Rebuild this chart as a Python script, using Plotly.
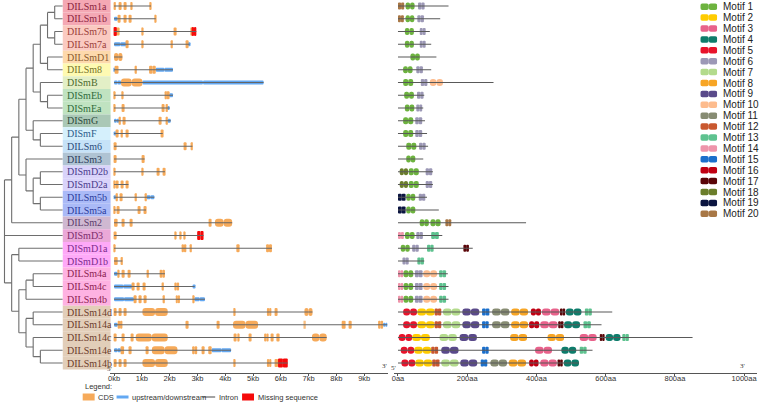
import plotly.graph_objects as go

W, H = 777, 402

# ---------------- data ----------------
genes = ["DILSm1a", "DILSm1b", "DILSm7b", "DILSm7a", "DILSmD1", "DILSm8", "DISmB",
         "DISmEb", "DISmEa", "DISmG", "DISmF", "DILSm6", "DILSm3", "DISmD2b",
         "DISmD2a", "DILSm5b", "DILSm5a", "DILSm2", "DISmD3", "DISmD1a", "DISmD1b",
         "DILSm4a", "DILSm4c", "DILSm4b", "DILSm14d", "DILSm14a", "DILSm14c",
         "DILSm14e", "DILSm14b"]

band_colors = ["#F4A8B4", "#F4A8B4", "#FACAC1", "#FACAC1", "#FDD9AC", "#FEFAB2", "#E3EFC6",
               "#C0E3C1", "#C0E3C1", "#AAC8B6", "#D5F0FC", "#C6E2F8", "#AFC3D3", "#D9D3FA",
               "#D9D3FA", "#AABAF7", "#AABAF7", "#CFB8D1", "#EAA8D8", "#FEA9F8", "#FEA9F8",
               "#FEB2E2", "#FEB2E2", "#FEB2E2", "#E2CEB9", "#E2CEB9", "#E2CEB9", "#E2CEB9",
               "#E2CEB9"]

label_colors = ["#8A2540", "#8A2540", "#9A3F3A", "#9A3F3A", "#8A5A2E", "#76742A", "#4C6A2E",
                "#2F6A3C", "#2F6A3C", "#2E4C3E", "#2C5C8A", "#2C4C7C", "#2C3C5C", "#4A3C8C",
                "#4A3C8C", "#2C3C9C", "#2C3C9C", "#5C3C6C", "#7C2C6C", "#7C2C8C", "#7C2C8C",
                "#8C2252", "#8C2252", "#8C2252", "#6C3C2C", "#6C3C2C", "#6C3C2C", "#6C3C2C",
                "#6C3C2C"]

# phylogenetic tree: (node depth, [children]); leaves are gene names
tree = (0, [
    (1, [
        (2, [
            (3, [
                (4, [
                    (5, [
                        (6, [(7, ["DILSm1a", "DILSm1b"]), (7, ["DILSm7b", "DILSm7a"])]),
                        (6, ["DILSmD1", "DILSm8"]),
                    ]),
                    (5, ["DISmB", (6, ["DISmEb", "DISmEa"])]),
                ]),
                (4, ["DISmG", (5, ["DISmF", "DILSm6"])]),
            ]),
            (3, ["DILSm3", (4, [(5, ["DISmD2b", "DISmD2a"]), (5, ["DILSm5b", "DILSm5a"])])]),
        ]),
        "DILSm2",
    ]),
    "DISmD3",
    (1, [
        (2, ["DISmD1a", "DISmD1b"]),
        (2, [
            (3, [(4, ["DILSm4a", "DILSm4c"]), "DILSm4b"]),
            (3, [(4, ["DILSm14d", "DILSm14a"]),
                 (4, ["DILSm14c", (5, ["DILSm14e", "DILSm14b"])])]),
        ]),
    ]),
])
LEAF_DEPTH = 8.125

# gene structure (kb)
cds_kb = {
    "DILSm1a": [(0, 0.05), (0.19, 0.25), (0.36, 0.42), (0.6, 0.65), (1.29, 1.33)],
    "DILSm1b": [(0.13, 0.21), (0.34, 0.42), (0.55, 0.62), (1.46, 1.5)],
    "DILSm7b": [(0.11, 0.19), (1.0, 1.05), (2.17, 2.22), (2.76, 2.81)],
    "DILSm7a": [(0.45, 0.52), (0.99, 1.05), (2.04, 2.1), (2.58, 2.65)],
    "DILSmD1": [(0, 0.3)],
    "DILSm8": [(0.02, 0.16), (0.75, 0.8), (1.26, 1.5)],
    "DISmB": [(0.25, 1.02)],
    "DISmEb": [(0, 0.02), (0.28, 0.33), (1.83, 1.88), (1.92, 1.98)],
    "DISmEa": [(0, 0.02), (0.3, 0.36), (1.74, 1.8), (1.86, 1.92)],
    "DISmG": [(0.19, 0.22), (0.33, 0.38), (1.62, 1.71), (1.86, 1.92)],
    "DISmF": [(0.09, 0.16), (0.25, 0.3), (0.45, 0.52), (1.7, 1.75)],
    "DILSm6": [(0, 0.06), (2.51, 2.6), (2.77, 2.82)],
    "DILSm3": [(0, 0.06), (1.02, 1.1)],
    "DISmD2b": [(0, 0.02), (1.0, 1.05), (1.56, 1.63), (1.76, 1.83)],
    "DISmD2a": [(0, 0.02), (0.09, 0.16), (0.26, 0.33), (0.45, 0.52)],
    "DILSm5b": [(0.09, 0.11), (0.21, 0.3), (0.76, 0.81), (1.12, 1.17)],
    "DILSm5a": [(0, 0.02), (0.09, 0.19), (0.88, 0.94), (1.06, 1.15)],
    "DILSm2": [(0, 0.12), (0.27, 0.36), (0.57, 0.64), (3.41, 3.48), (3.63, 4.25)],
    "DISmD3": [(0, 0.09), (2.18, 2.22), (2.36, 2.4), (2.52, 2.55)],
    "DISmD1a": [(0, 0.02), (2.43, 2.6), (2.74, 2.78), (4.4, 4.51), (5.47, 5.68)],
    "DISmD1b": [(0, 0.13), (0.27, 0.3)],
    "DILSm4a": [(0.13, 0.18), (0.3, 0.38), (0.52, 0.58), (1.2, 1.24), (1.64, 1.83)],
    "DILSm4c": [(0.66, 0.71), (0.84, 0.92), (1.05, 1.12), (1.74, 1.77), (2.17, 2.34)],
    "DILSm4b": [(0.72, 0.78), (0.88, 0.96), (1.08, 1.15), (1.76, 1.81), (2.22, 2.37), (2.84, 2.88)],
    "DILSm14d": [(0, 0.08), (0.19, 0.26), (0.35, 0.42), (1.02, 1.93), (4.31, 4.36),
                 (5.5, 5.66), (5.8, 5.88), (6.85, 7.14)],
    "DILSm14a": [(0.13, 0.3), (2.57, 2.65), (3.71, 3.77), (4.28, 5.18), (6.83, 6.88),
                 (8.19, 8.33), (8.46, 8.55), (9.5, 9.68)],
    "DILSm14c": [(0, 0.08), (0.27, 0.35), (0.6, 0.69), (0.78, 1.93), (4.33, 4.39), (4.45, 4.51),
                 (4.85, 4.92), (5.4, 5.56), (5.65, 5.74), (5.84, 5.94), (7.12, 7.65)],
    "DILSm14e": [(0.25, 0.36), (0.52, 0.62), (1.14, 1.21), (1.36, 2.28), (2.81, 2.99),
                 (3.15, 3.23), (3.39, 3.51)],
    "DILSm14b": [(0, 0.08), (0.19, 0.26), (0.35, 0.42), (1.02, 1.93), (4.31, 4.36),
                 (5.5, 5.66), (5.78, 5.9)],
}

utr_kb = {
    "DILSm1b": [(0, 0.13)],
    "DILSm7a": [(0, 0.45), (2.65, 2.72)],
    "DILSm8": [(0, 0.02), (1.5, 2.12)],
    "DISmB": [(0, 0.25), (1.02, 5.38)],
    "DISmEb": [(1.98, 2.12)],
    "DISmEa": [(1.92, 2.0)],
    "DISmG": [(0, 0.19), (1.92, 2.04)],
    "DISmF": [(0, 0.08)],
    "DILSm5b": [(0, 0.09), (1.17, 1.45)],
    "DILSm4a": [(0, 0.13)],
    "DILSm4c": [(0, 0.66), (2.86, 2.9)],
    "DILSm4b": [(0, 0.72), (2.89, 3.27)],
    "DILSm14a": [(0, 0.13), (9.68, 9.84)],
    "DILSm14e": [(0, 0.25), (3.51, 4.21)],
}

missing_kb = {
    "DILSm7b": [(0, 0.1), (2.79, 2.96)],
    "DISmD3": [(2.99, 3.22)],
    "DILSm14b": [(5.9, 6.25)],
}

# protein length (aa) and motif hits (motif number, start, end)
protein_len = [146, 122, 92, 96, 111, 96, 276, 76, 73, 78, 84, 87, 73, 101, 101, 84, 118,
               370, 128, 216, 76, 144, 146, 146, 619, 588, 851, 562, 523]

motif_hits = {
    "DILSm1a": [(20, 0, 18), (1, 22, 48), (6, 58, 77)],
    "DILSm1b": [(20, 0, 17), (1, 22, 47), (6, 56, 75)],
    "DILSm7b": [(1, 20, 46), (6, 63, 80)],
    "DILSm7a": [(1, 20, 46), (6, 63, 80)],
    "DILSmD1": [(1, 36, 63)],
    "DILSm8": [(1, 15, 42), (6, 53, 72)],
    "DISmB": [(1, 15, 44), (6, 66, 85), (10, 92, 130)],
    "DISmEb": [(1, 18, 46), (6, 55, 74)],
    "DISmEa": [(1, 20, 47), (6, 53, 70)],
    "DISmG": [(1, 15, 44), (6, 50, 70)],
    "DISmF": [(1, 15, 44), (6, 50, 70)],
    "DILSm6": [(1, 24, 53), (6, 61, 80)],
    "DILSm3": [(1, 24, 50)],
    "DISmD2b": [(18, 5, 29), (1, 31, 60), (6, 80, 99)],
    "DISmD2a": [(18, 5, 29), (1, 31, 60), (6, 80, 99)],
    "DILSm5b": [(19, 0, 22), (1, 24, 50), (6, 60, 79)],
    "DILSm5a": [(19, 0, 22), (1, 24, 50)],
    "DILSm2": [(1, 63, 89), (1, 94, 123), (20, 137, 154)],
    "DISmD3": [(14, 0, 17), (1, 20, 48), (6, 53, 72), (13, 96, 118)],
    "DISmD1a": [(1, 8, 34), (6, 41, 60), (13, 84, 103), (17, 189, 205)],
    "DISmD1b": [(6, 13, 31), (13, 56, 75)],
    "DILSm4a": [(14, 0, 15), (1, 16, 44), (6, 49, 71), (10, 73, 113), (13, 119, 139)],
    "DILSm4c": [(14, 0, 15), (1, 16, 44), (6, 49, 71), (10, 73, 113), (13, 119, 139)],
    "DILSm4b": [(14, 0, 15), (1, 16, 44), (6, 49, 71), (10, 73, 113), (13, 119, 139)],
    "DILSm14d": [(5, 15, 55), (2, 56, 106), (12, 106, 125), (7, 130, 180), (9, 186, 235),
                 (15, 243, 264), (11, 272, 322), (8, 327, 376), (16, 384, 413), (3, 416, 466),
                 (17, 468, 483), (4, 485, 530), (13, 540, 560)],
    "DILSm14a": [(5, 15, 55), (2, 56, 106), (12, 106, 125), (7, 130, 180), (9, 186, 235),
                 (15, 243, 262), (11, 272, 322), (8, 327, 376), (16, 379, 408), (3, 411, 461),
                 (17, 463, 478), (4, 480, 526), (13, 536, 557)],
    "DILSm14c": [(5, 2, 41), (2, 41, 92), (7, 120, 170), (9, 178, 228), (8, 324, 373),
                 (8, 432, 480), (3, 525, 574), (17, 583, 597), (4, 600, 643), (13, 648, 667)],
    "DILSm14e": [(5, 8, 47), (2, 47, 96), (12, 96, 116), (9, 125, 175), (15, 243, 262),
                 (3, 396, 445), (4, 472, 515), (13, 525, 545)],
    "DILSm14b": [(5, 10, 50), (2, 50, 99), (12, 99, 120), (7, 125, 175), (9, 180, 229),
                 (15, 239, 258), (11, 267, 315), (8, 320, 370), (16, 379, 406), (3, 411, 459),
                 (17, 461, 476), (4, 479, 523)],
}

motif_names = ["Motif %d" % i for i in range(1, 21)]
motif_colors = ["#6DB33F", "#FFCC00", "#E8628B", "#0E7C6B", "#E8132B", "#9C98B6", "#B3DB8C",
                "#F7A525", "#5A4A8A", "#FDBC8E", "#878C73", "#C9582F", "#5EC28F", "#EE94AA",
                "#1B6FCB", "#C00012", "#5A0508", "#6B7E2B", "#0B1541", "#A87745"]

kb_ticks = list(range(0, 10))
kb_labels = ["%dkb" % v for v in kb_ticks]
aa_ticks = list(range(0, 1001, 200))
aa_labels = ["%daa" % v for v in aa_ticks]

# ---------------- figure ----------------
fig = go.Figure()
row_of = {g: i for i, g in enumerate(genes)}

# tree
tx, ty = [], []


def place(node):
    if isinstance(node, str):
        return LEAF_DEPTH, row_of[node]
    depth, children = node
    pts = [place(c) for c in children]
    ys = [p[1] for p in pts]
    tx.extend([depth, depth, None])
    ty.extend([min(ys), max(ys), None])
    for cx, cy in pts:
        tx.extend([depth, cx, None])
        ty.extend([cy, cy, None])
    return depth, (min(ys) + max(ys)) / 2


place(tree)
fig.add_trace(go.Scatter(x=tx, y=ty, mode="lines", line=dict(color="#6e6e6e", width=1.1),
                         xaxis="x", yaxis="y", hoverinfo="skip"))


def rounded_bars(rows, starts, ends, colors, width, radius, xa, ya):
    mids = [(s + e) / 2 for s, e in zip(starts, ends)]
    for side in ("right", "left"):
        lens = [(e - m) if side == "right" else (s - m) for s, e, m in zip(starts, ends, mids)]
        fig.add_trace(go.Bar(orientation="h", y=rows, base=mids, x=lens, width=width,
                             marker=dict(color=colors, cornerradius=radius, line=dict(width=0)),
                             xaxis=xa, yaxis=ya, hoverinfo="skip"))


# gene structures
ix, iy = [], []
for g in genes:
    segs = cds_kb.get(g, []) + utr_kb.get(g, []) + missing_kb.get(g, [])
    lo = min(s for s, e in segs)
    hi = max(e for s, e in segs)
    ix.extend([lo, hi, None])
    iy.extend([row_of[g], row_of[g], None])
fig.add_trace(go.Scatter(x=ix, y=iy, mode="lines", line=dict(color="#666666", width=1.2),
                         xaxis="x2", yaxis="y", hoverinfo="skip"))


def collect(d):
    r, s, e = [], [], []
    for g in genes:
        for a, b in d.get(g, []):
            r.append(row_of[g]); s.append(a); e.append(b)
    return r, s, e


r, s, e = collect(utr_kb)
rounded_bars(r, s, e, "#63A8F2", 0.3, 1, "x2", "y")
r, s, e = collect(cds_kb)
rounded_bars(r, s, e, "#F6AA5A", 0.62, 4, "x2", "y")
r, s, e = collect(missing_kb)
rounded_bars(r, s, e, "#F50A0A", 0.72, 1, "x2", "y")

# proteins
px_, py_ = [], []
for g, L in zip(genes, protein_len):
    px_.extend([0, L, None])
    py_.extend([row_of[g], row_of[g], None])
fig.add_trace(go.Scatter(x=px_, y=py_, mode="lines", line=dict(color="#595959", width=1.2),
                         xaxis="x3", yaxis="y", hoverinfo="skip"))
mr, ms, me, mc = [], [], [], []
for g in genes:
    for m, a, b in motif_hits.get(g, []):
        mr.append(row_of[g]); ms.append(a); me.append(b); mc.append(motif_colors[m - 1])
rounded_bars(mr, ms, me, mc, 0.56, 3, "x3", "y")

# motif legend
leg_rows = list(range(len(motif_names)))
rounded_bars(leg_rows, [0] * len(leg_rows), [1] * len(leg_rows), motif_colors, 0.6, 2, "x4", "y2")

annotations = []
for i, name in enumerate(motif_names):
    annotations.append(dict(x=721 / W, xref="paper", y=i, yref="y2", text=name, showarrow=False,
                            xanchor="left", yanchor="middle",
                            font=dict(family="Liberation Sans, Arial", size=10, color="#222")))

# label bands
shapes = []
for i, g in enumerate(genes):
    shapes.append(dict(type="rect", xref="paper", yref="y", x0=60 / W, x1=108 / W,
                       y0=i - 0.5, y1=i + 0.5, fillcolor=band_colors[i], line=dict(width=0),
                       layer="below"))
    annotations.append(dict(x=62.5 / W, xref="paper", y=i, yref="y", text=g, showarrow=False,
                            xanchor="left", yanchor="middle",
                            font=dict(family="Liberation Serif, Times New Roman", size=10,
                                      color=label_colors[i])))


def P(xp, yp):
    return xp / W, 1 - yp / H


# 5' / 3' marks
for txt, xp, yp in [("5'", 107, 369), ("3'", 383, 366), ("5'", 392, 368), ("3'", 742, 366)]:
    x_, y_ = P(xp, yp)
    annotations.append(dict(x=x_, y=y_, xref="paper", yref="paper", text=txt, showarrow=False,
                            xanchor="center", yanchor="middle",
                            font=dict(family="Liberation Serif", size=7, color="#333")))

# bottom legend
legfont = dict(family="Liberation Sans, Arial", size=7.5, color="#333")
x_, y_ = P(80, 386)
annotations.append(dict(x=x_, y=y_, xref="paper", yref="paper", text="Legend:", showarrow=False,
                        xanchor="left", yanchor="middle", font=legfont))
for txt, xp in [("CDS", 93), ("upstream/downstream", 127), ("Intron", 215), ("Missing sequence", 254)]:
    x_, y_ = P(xp, 397)
    annotations.append(dict(x=x_, y=y_, xref="paper", yref="paper", text=txt, showarrow=False,
                            xanchor="left", yanchor="middle", font=legfont))
x0, y0 = P(80, 393.5); x1, y1 = P(92, 400.5)
shapes.append(dict(type="rect", xref="paper", yref="paper", x0=x0, x1=x1, y0=y0, y1=y1,
                   fillcolor="#F6AA5A", line=dict(width=0)))
x0, y0 = P(114, 397); x1, _ = P(126, 397)
shapes.append(dict(type="line", xref="paper", yref="paper", x0=x0, x1=x1, y0=y0, y1=y0,
                   line=dict(color="#63A8F2", width=3)))
x0, y0 = P(200, 397); x1, _ = P(213, 397)
shapes.append(dict(type="line", xref="paper", yref="paper", x0=x0, x1=x1, y0=y0, y1=y0,
                   line=dict(color="#666", width=1.2)))
x0, y0 = P(240, 393.5); x1, y1 = P(252, 400.5)
shapes.append(dict(type="rect", xref="paper", yref="paper", x0=x0, x1=x1, y0=y0, y1=y1,
                   fillcolor="#F50A0A", line=dict(width=0)))

axis_pos = 1 - 373 / H
tickfont = dict(family="Liberation Sans, Arial", size=7.5, color="#333")
gene_px0, gene_ppk = 111.5, 27.9
mot_px0, mot_ppa = 396.5, 0.3475
axis_style = dict(anchor="free", position=axis_pos, showline=True, linecolor="#555", linewidth=1,
                  ticks="outside", ticklen=2, tickcolor="#555", ticklabelstandoff=-4,
                  tickfont=tickfont, showgrid=False, zeroline=False)

fig.update_layout(
    width=W, height=H, margin=dict(l=0, r=0, t=0, b=0),
    paper_bgcolor="white", plot_bgcolor="rgba(0,0,0,0)", showlegend=False, barmode="overlay",
    xaxis=dict(domain=[0, 60 / W], range=[-1.5 / 7.2, LEAF_DEPTH], visible=False, anchor="y"),
    yaxis=dict(domain=[0, 1], range=[(H - 6) / 12.75, -6 / 12.75], visible=False, anchor="x"),
    xaxis2=dict(domain=[107 / W, 386 / W],
                range=[(107 - gene_px0) / gene_ppk, (386 - gene_px0) / gene_ppk],
                tickvals=kb_ticks, ticktext=kb_labels, **axis_style),
    xaxis3=dict(domain=[393 / W, 757 / W],
                range=[(393 - mot_px0) / mot_ppa, (757 - mot_px0) / mot_ppa],
                tickvals=aa_ticks, ticktext=aa_labels, **axis_style),
    xaxis4=dict(domain=[700 / W, 717 / W], range=[0, 1], visible=False, anchor="y2"),
    yaxis2=dict(domain=[0, 1], range=[(H - 6.7) / 10.9, -6.7 / 10.9], visible=False, anchor="x4"),
    shapes=shapes, annotations=annotations,
)

fig.write_html("out.html", config={"displayModeBar": False},
               post_script="document.body.style.margin='0px';document.body.style.padding='0px';")
